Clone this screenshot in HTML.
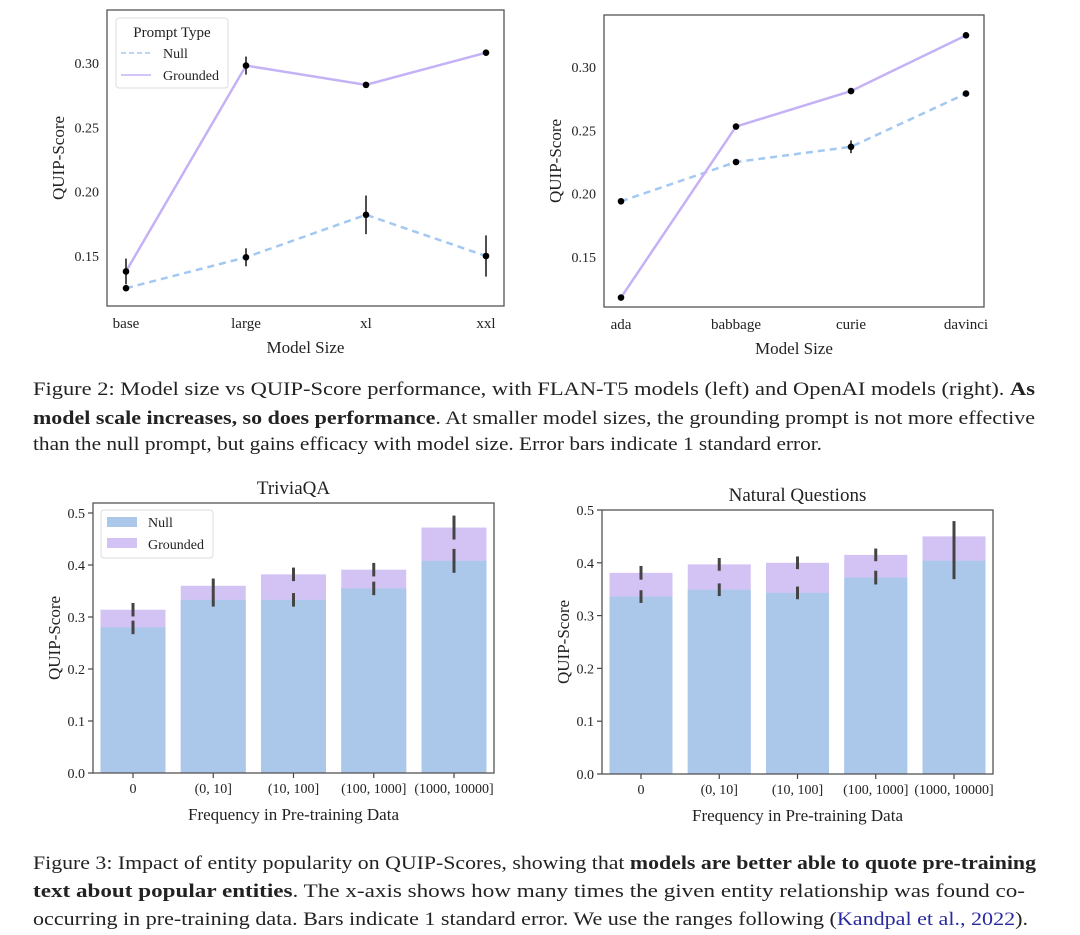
<!DOCTYPE html>
<html><head><meta charset="utf-8"><style>
body{margin:0;background:#fff;width:1080px;height:935px;overflow:hidden}
svg{position:absolute;left:0;top:0}
text{font-family:"Liberation Serif","DejaVu Serif",serif;fill:#222}
</style></head><body>
<svg id="s" width="1080" height="935">
<g font-size="19">
<text x="33" y="395" textLength="1002" lengthAdjust="spacingAndGlyphs">Figure 2: Model size vs QUIP-Score performance, with FLAN-T5 models (left) and OpenAI models (right). <tspan font-weight="bold">As</tspan></text>
<text x="33" y="424" textLength="1002" lengthAdjust="spacingAndGlyphs"><tspan font-weight="bold">model scale increases, so does performance</tspan>. At smaller model sizes, the grounding prompt is not more effective</text>
<text x="33" y="450" textLength="789" lengthAdjust="spacingAndGlyphs">than the null prompt, but gains efficacy with model size. Error bars indicate 1 standard error.</text>
</g>
<g font-size="19">
<text x="33" y="869" textLength="1003" lengthAdjust="spacingAndGlyphs">Figure 3: Impact of entity popularity on QUIP-Scores, showing that <tspan font-weight="bold">models are better able to quote pre-training</tspan></text>
<text x="33" y="897" textLength="992" lengthAdjust="spacingAndGlyphs"><tspan font-weight="bold">text about popular entities</tspan>.  The x-axis shows how many times the given entity relationship was found co-</text>
<text x="33" y="925" textLength="995" lengthAdjust="spacingAndGlyphs">occurring in pre-training data. Bars indicate 1 standard error. We use the ranges following (<tspan fill="#2a2aa0">Kandpal et al., 2022</tspan>).</text>
</g>
</svg>
<script>
// ---- Figure 2 left (FLAN-T5) ----
const t5Cats = ["base","large","xl","xxl"];
const t5Null = [0.125,0.149,0.182,0.150];
const t5NullErr = [0.002,0.007,0.015,0.016];
const t5Grounded = [0.138,0.298,0.283,0.308];
const t5GroundedErr = [0.010,0.007,0.001,0.001];
const t5Ticks = [0.15,0.20,0.25,0.30];
// ---- Figure 2 right (OpenAI) ----
const oaCats = ["ada","babbage","curie","davinci"];
const oaNull = [0.194,0.225,0.237,0.279];
const oaNullErr = [0.001,0.001,0.005,0.001];
const oaGrounded = [0.118,0.253,0.281,0.325];
const oaGroundedErr = [0.001,0.001,0.001,0.001];
const oaTicks = [0.15,0.20,0.25,0.30];
// ---- Figure 3 ----
const freqCats = ["0","(0, 10]","(10, 100]","(100, 1000]","(1000, 10000]"];
const tqNull = [0.280,0.333,0.333,0.355,0.408];
const tqNullErr = [0.013,0.013,0.013,0.013,0.023];
const tqGrounded = [0.314,0.360,0.382,0.391,0.472];
const tqGroundedErr = [0.013,0.014,0.013,0.013,0.023];
const nqNull = [0.336,0.349,0.343,0.372,0.404];
const nqNullErr = [0.012,0.012,0.012,0.013,0.035];
const nqGrounded = [0.381,0.397,0.400,0.415,0.450];
const nqGroundedErr = [0.013,0.012,0.012,0.012,0.029];
const barTicks = [0.0,0.1,0.2,0.3,0.4,0.5];

const NS="http://www.w3.org/2000/svg";
const svg=document.getElementById('s');
function mk(tag,attrs,parent){const e=document.createElementNS(NS,tag);for(const k in attrs)e.setAttribute(k,attrs[k]);(parent||svg).appendChild(e);return e;}
function txt(str,attrs,parent){const e=mk('text',attrs,parent);e.textContent=str;return e;}

function lineChart(cfg){
  const g=mk('g',{});
  
  
  const {x0,x1,y0,y1,vmin,vmax,yA,yB,xs}=cfg;
  const sy=v=>yA+(v-vmin)/(vmax-vmin)*(yB-yA);
  const sx=i=>xs[0]+i*(xs[1]-xs[0])/(cfg.cats.length-1);
  cfg.ticks.forEach(t=>{
    const l=txt(t.toFixed(2),{x:x0-8,y:sy(t)+5,'font-size':14,'text-anchor':'end'},g);
    
    
  });
  cfg.cats.forEach((c,i)=>{
    const l=txt(c,{x:sx(i),y:y1+22,'font-size':15,'text-anchor':'middle'},g);
    
    
  });
  const series=[[cfg.nul,cfg.nulErr,'#a3c8f2','7,5','null'],[cfg.gr,cfg.grErr,'#c5b2f6','','grounded']];
  series.forEach(([vals,err,col,dash,nm])=>{
    const p=mk('polyline',{points:vals.map((v,i)=>sx(i)+','+sy(v)).join(' '),fill:'none',stroke:col,'stroke-width':2.5,'stroke-dasharray':dash},g);
    
    
  });
  series.forEach(([vals,err,col,dash,nm])=>{
    vals.forEach((v,i)=>{
      const e=mk('line',{x1:sx(i),x2:sx(i),y1:sy(v-err[i]),y2:sy(v+err[i]),stroke:'#222','stroke-width':1.6},g);
      
      
      const c=mk('circle',{cx:sx(i),cy:sy(v),r:3.3,fill:'#000'},g);
      
      
    });
  });
  const f=mk('rect',{x:x0,y:y0,width:x1-x0,height:y1-y0,fill:'none',stroke:'#555','stroke-width':1.3},g);
  
  
  const yl=txt('QUIP-Score',{transform:`translate(${cfg.ylx},${(y0+y1)/2}) rotate(-90)`,'font-size':17,'text-anchor':'middle'},g);
  
  
  const xl=txt('Model Size',{x:(x0+x1)/2,y:y1+47,'font-size':17,'text-anchor':'middle'},g);
  
  
  return g;
}

function barChart(cfg){
  const g=mk('g',{});
  
  
  const {x0,x1,y0,y1,xs,bw}=cfg;
  const sy=v=>y1-v/0.5*(y1-cfg.y05);
  const sx=i=>xs[0]+i*(xs[1]-xs[0])/(cfg.cats.length-1);
  cfg.gr.forEach((v,i)=>{
    const r=mk('rect',{x:sx(i)-bw/2,y:sy(v),width:bw,height:y1-sy(v),fill:'#d3c3f5'},g);
    
    
    const e=mk('line',{x1:sx(i),x2:sx(i),y1:sy(v-cfg.grErr[i]),y2:sy(v+cfg.grErr[i]),stroke:'#444','stroke-width':3},g);
    
    
  });
  cfg.nul.forEach((v,i)=>{
    const b=mk('rect',{x:sx(i)-bw/2,y:sy(v),width:bw,height:y1-sy(v),fill:'#abc8eb'},g);
    
    
    const e=mk('line',{x1:sx(i),x2:sx(i),y1:sy(v-cfg.nulErr[i]),y2:sy(v+cfg.nulErr[i]),stroke:'#444','stroke-width':3},g);
    
    
  });
  cfg.ticks.forEach(t=>{
    const tk=mk('line',{x1:x0-5,x2:x0,y1:sy(t),y2:sy(t),stroke:'#444','stroke-width':1.2},g);
    
    
    const l=txt(t.toFixed(1),{x:x0-8,y:sy(t)+5,'font-size':14,'text-anchor':'end'},g);
    
    
  });
  cfg.cats.forEach((c,i)=>{
    const tk=mk('line',{x1:sx(i),x2:sx(i),y1:y1,y2:y1+5,stroke:'#444','stroke-width':1.2},g);
    
    
    const l=txt(c,{x:sx(i),y:y1+20,'font-size':14,'text-anchor':'middle'},g);
    
    
  });
  const f=mk('rect',{x:x0,y:y0,width:x1-x0,height:y1-y0,fill:'none',stroke:'#555','stroke-width':1.3},g);
  
  
  const tt=txt(cfg.title,{x:(x0+x1)/2,y:y0-9,'font-size':19,'text-anchor':'middle'},g);
  
  
  const yl=txt('QUIP-Score',{transform:`translate(${cfg.ylx},${(y0+y1)/2}) rotate(-90)`,'font-size':17,'text-anchor':'middle'},g);
  
  
  const xl=txt('Frequency in Pre-training Data',{x:(x0+x1)/2,y:y1+47,'font-size':17,'text-anchor':'middle'},g);
  
  
  return g;
}

lineChart({name:'flan-t5-chart',x0:107,x1:504,y0:10,y1:306,vmin:0.15,vmax:0.30,yA:256,yB:63,xs:[126,486],
  cats:t5Cats,nul:t5Null,nulErr:t5NullErr,gr:t5Grounded,grErr:t5GroundedErr,ticks:t5Ticks,ylx:64});
lineChart({name:'openai-chart',x0:604,x1:984,y0:15,y1:307,vmin:0.15,vmax:0.30,yA:257,yB:67,xs:[621,966],
  cats:oaCats,nul:oaNull,nulErr:oaNullErr,gr:oaGrounded,grErr:oaGroundedErr,ticks:oaTicks,ylx:561});
barChart({name:'triviaqa-chart',title:'TriviaQA',x0:93,x1:494,y0:503,y1:773,y05:513,xs:[133,454],bw:65,
  cats:freqCats,nul:tqNull,nulErr:tqNullErr,gr:tqGrounded,grErr:tqGroundedErr,ticks:barTicks,ylx:60});
barChart({name:'natural-questions-chart',title:'Natural Questions',x0:602,x1:993,y0:510,y1:774,y05:510,xs:[641,954],bw:63,
  cats:freqCats,nul:nqNull,nulErr:nqNullErr,gr:nqGrounded,grErr:nqGroundedErr,ticks:barTicks,ylx:569});
</script>
<svg width="1080" height="935" style="pointer-events:none">
<g>
<rect x="116" y="18" width="112" height="70" rx="3" fill="#fff" stroke="#ddd"/>
<text x="172" y="37" font-size="15" text-anchor="middle">Prompt Type</text>
<line x1="121" x2="151" y1="53" y2="53" stroke="#a3c8f2" stroke-width="1.5" stroke-dasharray="5,3"/>
<text x="163" y="58" font-size="14">Null</text>
<line x1="121" x2="151" y1="75" y2="75" stroke="#c5b2f6" stroke-width="1.5"/>
<text x="163" y="80" font-size="14">Grounded</text>
</g>
<g>
<rect x="101" y="510" width="112" height="48" rx="3" fill="#fff" stroke="#ddd"/>
<rect x="107" y="517" width="30" height="10" fill="#abc8eb"/>
<text x="148" y="527" font-size="14">Null</text>
<rect x="107" y="538" width="30" height="10" fill="#d3c3f5"/>
<text x="148" y="549" font-size="14">Grounded</text>
</g>
</svg>
</body></html>
